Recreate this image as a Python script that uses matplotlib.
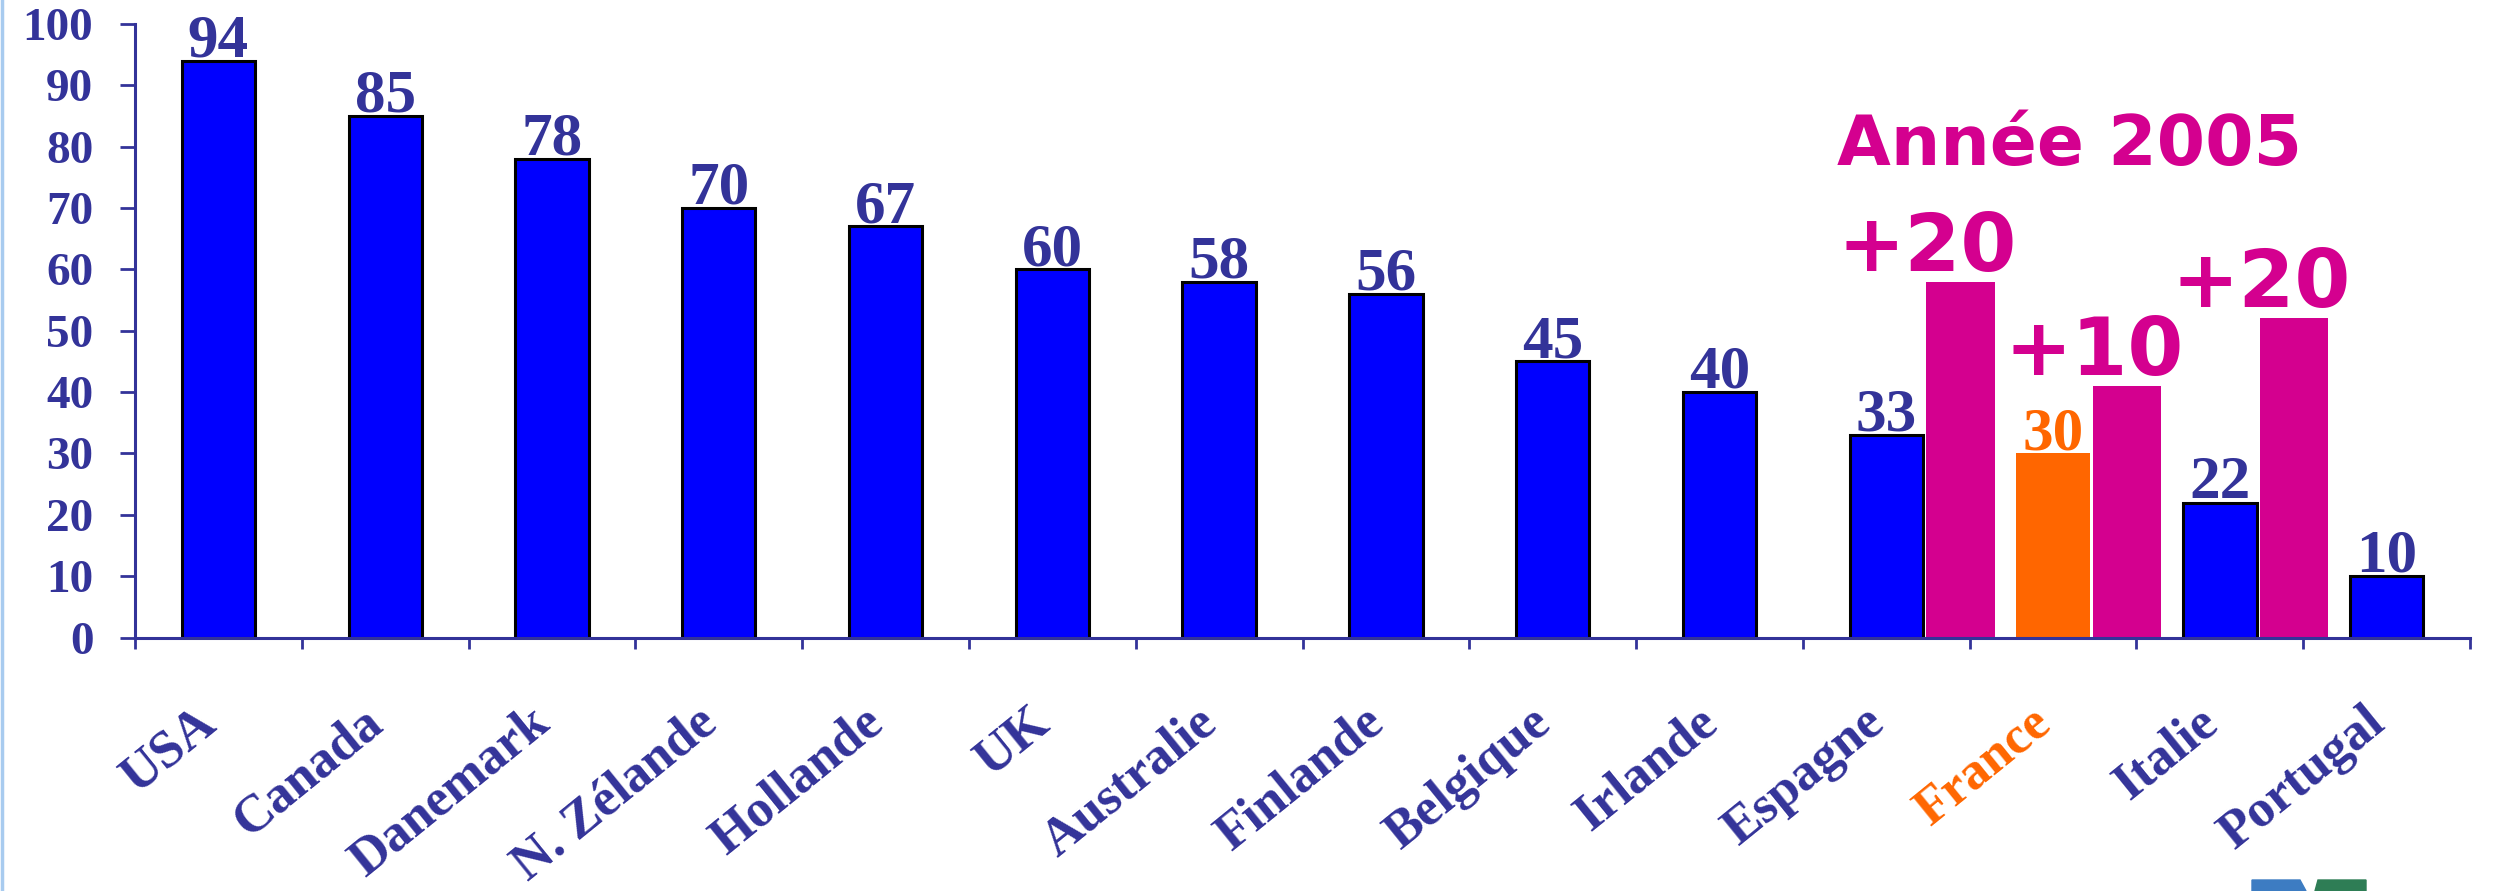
import matplotlib
matplotlib.use("Agg")
import matplotlib.pyplot as plt
from matplotlib.lines import Line2D
from matplotlib.patches import Polygon

# Data
countries = ["USA", "Canada", "Danemark", "N. Zélande", "Hollande", "UK",
             "Australie", "Finlande", "Belgique", "Irlande", "Espagne",
             "France", "Italie", "Portugal"]
values = [94, 85, 78, 70, 67, 60, 58, 56, 45, 40, 33, 30, 22, 10]

# 2005 projections for three countries
proj_countries = ["Espagne", "France", "Italie"]
proj_values = [58, 41, 52]
proj_labels = ["+20", "+10", "+20"]

highlight = "France"
y_ticks = [0, 10, 20, 30, 40, 50, 60, 70, 80, 90, 100]

# Styles
NAVY = "#333399"
BLUE = "#0000FF"
MAGENTA = "#D4008F"
ORANGE = "#FF6600"
SERIF = ["Liberation Serif", "DejaVu Serif"]
ROUND = ["DejaVu Sans"]

fig = plt.figure(figsize=(24.96, 8.91), dpi=100)
ax = fig.add_axes([0.0541, 0.2845, 0.9355, 0.6886])

x = list(range(len(countries)))
bar_w = 0.44
colors = [ORANGE if c == highlight else BLUE for c in countries]
edges = ["none" if c == highlight else "black" for c in countries]
ax.bar(x, values, width=bar_w, color=colors, edgecolor=edges, linewidth=2.2,
       zorder=3)

# 2005 bars, placed just right of each country's bar
proj_x = [countries.index(c) + 0.445 for c in proj_countries]
ax.bar(proj_x, proj_values, width=0.41, color=MAGENTA, edgecolor="none",
       zorder=3)

# Value labels
for xi, v, c in zip(x, values, countries):
    col = ORANGE if c == highlight else NAVY
    ax.annotate(str(v), xy=(xi, v), xytext=(0, 3), textcoords="offset points",
                ha="center", va="baseline", fontsize=44, fontweight="bold",
                family=SERIF, color=col, zorder=4)

for px, pv, lab in zip(proj_x, proj_values, proj_labels):
    ax.annotate(lab, xy=(px - 0.2, pv), xytext=(0, 8),
                textcoords="offset points", ha="center", va="baseline",
                fontsize=58, fontweight="bold", family=ROUND, color=MAGENTA,
                zorder=4)

ax.text(11.1, 77.0, "Année 2005", ha="center", va="baseline", fontsize=50,
        fontweight="bold", family=ROUND, color=MAGENTA)

# Axes
ax.set_xlim(-0.5, len(countries) - 0.5)
ax.set_ylim(0, 100)
ax.set_yticks(y_ticks)
ax.set_yticklabels([str(t) for t in y_ticks], fontsize=34, fontweight="bold",
                   family=SERIF, color=NAVY)
ax.set_xticks([i - 0.5 for i in range(len(countries) + 1)])
ax.set_xticklabels([])
ax.tick_params(axis="y", direction="out", length=11, width=2, color=NAVY,
               pad=19)
ax.tick_params(axis="x", direction="out", length=8, width=2, color=NAVY)
for s in ["top", "right"]:
    ax.spines[s].set_visible(False)
for s in ["left", "bottom"]:
    ax.spines[s].set_color(NAVY)
    ax.spines[s].set_linewidth(2.2)
    ax.spines[s].set_zorder(5)

# Category labels, slanted
for xi, c in zip(x, countries):
    col = ORANGE if c == highlight else NAVY
    ax.annotate(c, xy=(xi, 0), xytext=(-6, -57), textcoords="offset points",
                rotation=39, rotation_mode="anchor", ha="right", va="center",
                fontsize=38, fontweight="bold", family=SERIF, color=col,
                annotation_clip=False)

# Slide border on the left and small logo at the bottom right
fig.add_artist(Line2D([0.0008, 0.0008], [0, 1], color="#A8CBEF", lw=2.5,
                      transform=fig.transFigure))
fig.add_artist(Polygon([[2252 / 2496, 0], [2252 / 2496, 11 / 891],
                        [2300 / 2496, 11 / 891], [2306 / 2496, 0]],
                       closed=True, color="#3D7CC2", transform=fig.transFigure))
fig.add_artist(Polygon([[2315 / 2496, 0], [2318 / 2496, 11 / 891],
                        [2366 / 2496, 11 / 891], [2366 / 2496, 0]],
                       closed=True, color="#2E7D55", transform=fig.transFigure))

fig.savefig("out.png", dpi=100, facecolor="white")
